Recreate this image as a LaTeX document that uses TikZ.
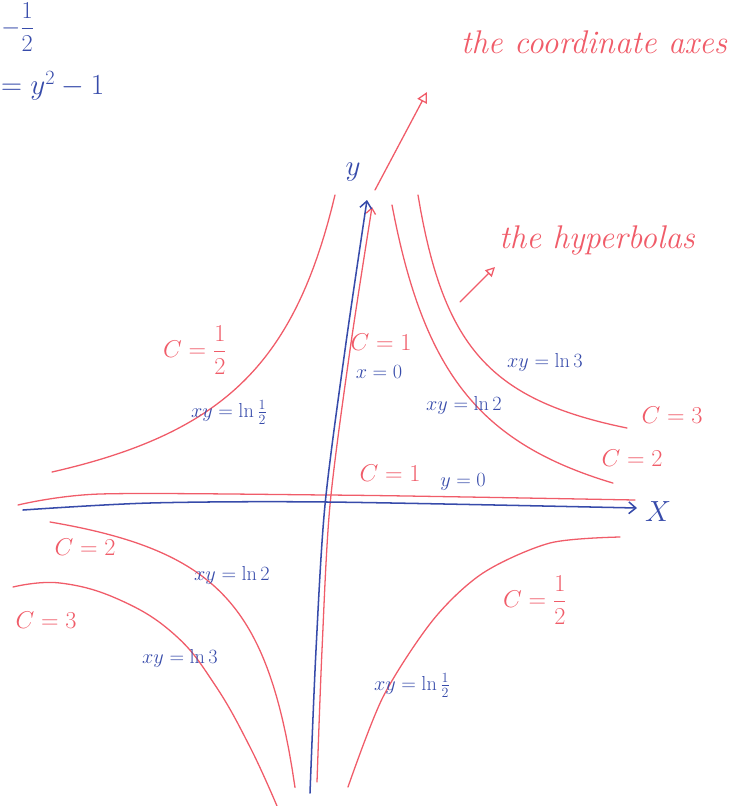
\documentclass[tikz,border=0pt]{standalone}
\usepackage{amsmath}
\usetikzlibrary{arrows.meta}
\definecolor{penred}{RGB}{240,92,105}
\definecolor{penblue}{RGB}{55,75,170}
\tikzset{
  redpen/.style={draw=penred, line width=1.1pt, line cap=round, line join=round},
  bluepen/.style={draw=penblue, line width=1.3pt, line cap=round, line join=round},
  clbl/.style={text=penred, font=\fontsize{20}{22}\selectfont, inner sep=0pt},
  xylbl/.style={text=penblue, font=\fontsize{17}{19}\selectfont, inner sep=0pt},
  notelbl/.style={text=penred, font=\fontsize{28}{32}\selectfont\itshape, inner sep=0pt},
  axlbl/.style={text=penblue, font=\fontsize{28}{30}\selectfont, inner sep=0pt},
}
\begin{document}
\begin{tikzpicture}[x=0.03cm,y=-0.03cm]
\useasboundingbox (0,0) rectangle (745,806);
\clip (0,0) rectangle (745,806);

% top-left fragment of a previous computation
\node[text=penblue, font=\fontsize{22}{24}\selectfont, inner sep=1pt, anchor=north west] (frag1) at (0,1) {$-\dfrac{1}{2}$};
\node[text=penblue, font=\fontsize{26}{28}\selectfont, inner sep=0pt, anchor=west] (frag2) at (1,86) {$=y^{2}-1$};

% named axis points
\coordinate (yb) at (310,793);
\coordinate (yt) at (367,200);
\coordinate (xl) at (23,510);
\coordinate (xr) at (637,508);
\coordinate (rb) at (317,782);
\coordinate (rt) at (372,207);
\coordinate (rl) at (18,505);
\coordinate (rr) at (635,500);

% red line x = 0 (C = 1) and y = 0 (C = 1)
\draw[redpen, -{Straight Barb[length=5pt,width=8pt]}] plot[smooth] coordinates {(rb) (322,650) (330,505) (350,350) (rt)};
\draw[redpen] plot[smooth] coordinates {(rl) (100,494) (327,495) (467,497) (rr)};

% blue coordinate axes
\draw[bluepen, -{Straight Barb[length=6pt,width=10pt]}] plot[smooth] coordinates {(yb) (316,650) (325,505) (345,350) (yt)};
\draw[bluepen, -{Straight Barb[length=6pt,width=10pt]}] plot[smooth] coordinates {(xl) (150,503) (327,502) (xr)};
\node[axlbl] (ylab) at (353,172) {$y$};
\node[axlbl] (xlab) at (658,512) {$X$};

% hyperbolas, quadrant I
\draw[redpen] plot[domain=68.6:289.6, samples=80, variable=\t] ({323.4+\t},{569.4-250*(100/\t)});
\draw[redpen] plot[domain=46.9:255.9, samples=80, variable=\t] ({371.1+\t},{480.3-133.8*(100/\t)});
% quadrant II
\draw[redpen] plot[domain=85.7:368.7, samples=80, variable=\t] ({420.7-\t},{555.9-309.3*(100/\t)});
% quadrant III
\draw[redpen] plot[domain=45.5:290.5, samples=80, variable=\t] ({340.5-\t},{472.7+143.2*(100/\t)});
\draw[redpen] plot[smooth, tension=0.7] coordinates {(13,587) (60,583) (120,600) (175,635) (215,685) (250,747) (277,806)};
% quadrant IV
\draw[redpen] plot[smooth] coordinates {(348,787) (383,697) (433,620) (483,573) (550,543) (620,537)};

% C labels
\node[clbl] (c1a) at (381,342) {$C=1$};
\node[clbl] (c1b) at (390,473) {$C=1$};
\node[clbl] (chq2) at (195,350) {$C=\dfrac{1}{2}$};
\node[clbl] (chq4) at (535,600) {$C=\dfrac{1}{2}$};
\node[clbl] (c3q1) at (672,415) {$C=3$};
\node[clbl] (c2q1) at (632,458) {$C=2$};
\node[clbl] (c2q3) at (85,547) {$C=2$};
\node[clbl] (c3q3) at (46,620) {$C=3$};

% xy labels
\node[xylbl] (x0) at (379,372) {$x=0$};
\node[xylbl] (y0) at (463,482) {$y=0$};
\node[xylbl] (l3q1) at (545,362) {$xy=\ln 3$};
\node[xylbl] (l2q1) at (464,405) {$xy=\ln 2$};
\node[xylbl] (lhq2) at (229,412) {$xy=\ln\frac{1}{2}$};
\node[xylbl] (l2q3) at (232,575) {$xy=\ln 2$};
\node[xylbl] (l3q3) at (180,658) {$xy=\ln 3$};
\node[xylbl] (lhq4) at (412,685) {$xy=\ln\frac{1}{2}$};

% annotations
\node[notelbl] (axes) at (594,42) {the coordinate axes};
\node[notelbl] (hyp) at (597,240) {the hyperbolas};
\coordinate (a1s) at (375,190);
\coordinate (a1e) at (427,92);
\coordinate (a2s) at (460,302);
\coordinate (a2e) at (495,267);
\draw[redpen, -{Triangle[open,length=9pt,width=9pt]}] (a1s) -- (a1e);
\draw[redpen, -{Triangle[open,length=8pt,width=8pt]}] (a2s) -- (a2e);
\end{tikzpicture}
\end{document}
